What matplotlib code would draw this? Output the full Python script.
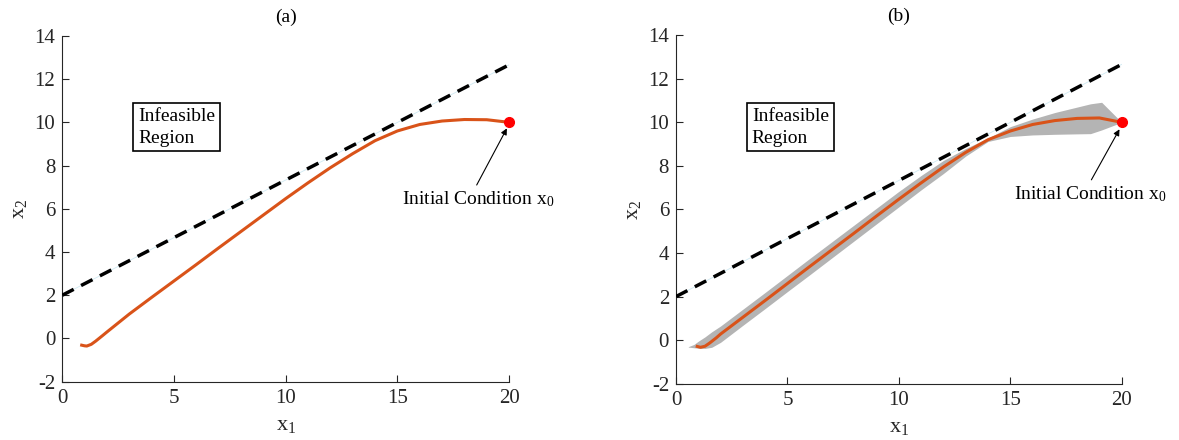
import matplotlib
matplotlib.use("Agg")
import matplotlib.pyplot as plt
import numpy as np

plt.rcParams['font.family'] = ['Liberation Serif', 'DejaVu Serif']
plt.rcParams['mathtext.fontset'] = 'custom'
plt.rcParams['mathtext.rm'] = 'Liberation Serif'
plt.rcParams['mathtext.it'] = 'Liberation Serif'
plt.rcParams['axes.unicode_minus'] = False

# constraint boundary x2 = 2 + 0.533 x1
bound_x = [0, 20]
bound_y = [2.0, 12.66]

# (a) nominal trajectory
traj_a_x = [0.87, 1.0, 1.1, 1.3, 1.5, 1.8, 2, 3, 4, 5, 6, 7, 8, 9, 10,
            11, 12, 13, 14, 15, 16, 17, 18, 19, 20]
traj_a_y = [-0.31, -0.34, -0.35, -0.27, -0.12, 0.13, 0.3, 1.13, 1.9, 2.66,
            3.42, 4.19, 4.95, 5.71, 6.47, 7.2, 7.9, 8.55, 9.15, 9.6, 9.9,
            10.06, 10.13, 10.12, 10.0]

# (b) mean trajectory and spread
traj_b_x = [0.95, 1.1, 1.3, 1.5, 1.8, 2, 3, 4, 5, 6, 7, 8, 9, 10,
            11, 12, 13, 14, 15, 16, 17, 18, 19, 20]
traj_b_y = [-0.29, -0.33, -0.28, -0.14, 0.1, 0.28, 1.05, 1.82, 2.6, 3.38,
            4.15, 4.92, 5.7, 6.47, 7.22, 7.95, 8.62, 9.2, 9.6, 9.9, 10.08,
            10.18, 10.2, 10.0]

band_x = [0.55, 0.8, 1.0, 1.3, 1.6, 2, 3, 4, 5, 6, 7, 8, 9, 10, 11, 12,
          13, 14, 15, 16, 17, 18, 18.6, 19.1, 20]
band_lo = [-0.32, -0.35, -0.37, -0.38, -0.33, -0.1, 0.68, 1.45, 2.23,
           3.0, 3.78, 4.56, 5.34, 6.12, 6.9, 7.65, 8.45, 9.12, 9.35,
           9.42, 9.45, 9.47, 9.48, 9.65, 10.0]
band_hi = [-0.3, -0.2, -0.05, 0.15, 0.38, 0.65, 1.42, 2.19, 2.97, 3.75,
           4.52, 5.29, 6.06, 6.83, 7.56, 8.25, 8.8, 9.28, 9.8, 10.15,
           10.45, 10.7, 10.85, 10.92, 10.0]

x0 = (20, 10)

orange = '#D95319'
axcol = '#262626'

fig = plt.figure(figsize=(11.79, 4.40), dpi=100)
ax1 = fig.add_axes([0.0528, 0.1325, 0.379, 0.786])
ax2 = fig.add_axes([0.5734, 0.1280, 0.378, 0.792])


def style(ax, title):
    ax.set_xlim(0, 20)
    ax.set_ylim(-2, 14)
    ax.set_xticks([0, 5, 10, 15, 20])
    ax.set_yticks(range(-2, 15, 2))
    for s in ('top', 'right'):
        ax.spines[s].set_visible(False)
    for s in ('left', 'bottom'):
        ax.spines[s].set_color(axcol)
        ax.spines[s].set_linewidth(0.8)
    ax.tick_params(direction='in', length=5, width=0.8, colors=axcol,
                   labelsize=15, pad=5)
    ax.set_xlabel(r'x$_\mathregular{1}$', fontsize=16, color=axcol, labelpad=6)
    ax.set_ylabel(r'x$_\mathregular{2}$', fontsize=16, color=axcol, labelpad=4)
    ax.set_title(title, fontsize=14, pad=10)
    ax.plot(bound_x, bound_y, color='#cfe9f2', lw=0.6, zorder=2)
    ax.plot(bound_x, bound_y, color='black', lw=2.5,
            linestyle=(0, (3.7, 2.4)), zorder=3)
    ax.text(3.4, 9.77, 'Infeasible\nRegion', fontsize=14, ha='left',
            va='center', linespacing=1.35,
            bbox=dict(boxstyle='square,pad=0.25', fc='white', ec='black', lw=1.2))


style(ax1, '(a)')
ax1.plot(traj_a_x, traj_a_y, color=orange, lw=2.2, zorder=4)
ax1.plot(*x0, 'o', color='red', ms=7, zorder=5, clip_on=False)
ax1.annotate('', xy=(19.9, 9.72), xytext=(18.55, 7.1),
             arrowprops=dict(arrowstyle='-|>', color='black', lw=0.8,
                             mutation_scale=9, shrinkA=0, shrinkB=0))
ax1.text(18.6, 6.45, r'Initial Condition x$_\mathregular{0}$', fontsize=14,
         ha='center', va='center')

style(ax2, '(b)')
ax2.fill_between(band_x, band_lo, band_hi, color='#b4b4b4', lw=0, zorder=3)
ax2.plot(traj_b_x, traj_b_y, color=orange, lw=2.2, zorder=4)
ax2.plot(*x0, 'o', color='red', ms=7, zorder=5, clip_on=False)
ax2.annotate('', xy=(19.9, 9.68), xytext=(18.64, 7.36),
             arrowprops=dict(arrowstyle='-|>', color='black', lw=0.8,
                             mutation_scale=9, shrinkA=0, shrinkB=0))
ax2.text(18.6, 6.7, r'Initial Condition x$_\mathregular{0}$', fontsize=14,
         ha='center', va='center')

fig.savefig('out.png', dpi=100)
